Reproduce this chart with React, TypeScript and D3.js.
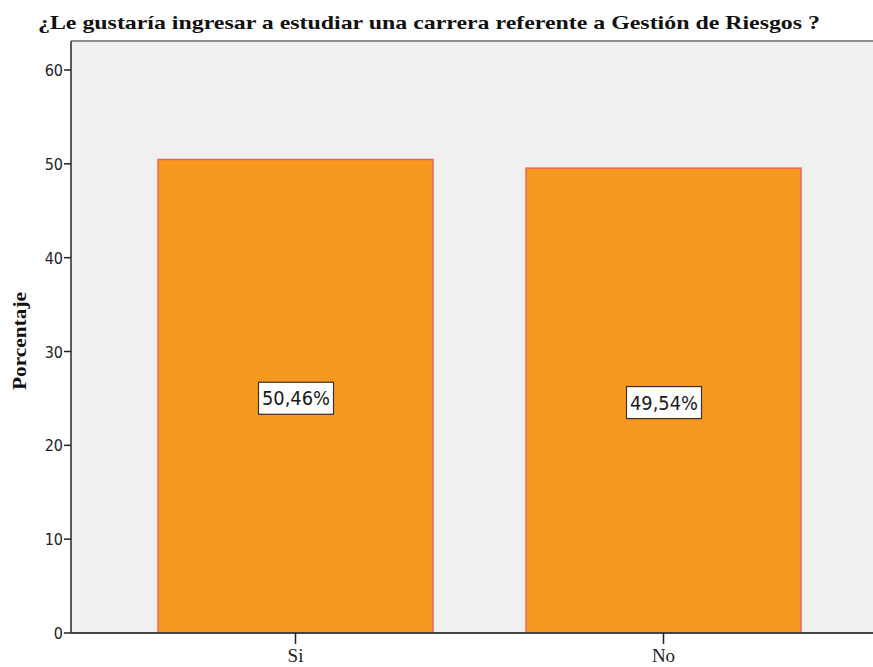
import React from 'react';
import * as d3 from 'd3';

const categories = ['Si', 'No'];
const values = [50.46, 49.54];
const valueLabels = ['50,46%', '49,54%'];
const yTicks = [0, 10, 20, 30, 40, 50, 60];

const W = 873;
const H = 667;
const plot = { left: 71, top: 41, right: 900, bottom: 633 };

export default function App() {
  const y = d3.scaleLinear().domain([0, 60]).range([plot.bottom, 70]);
  const x = d3
    .scaleBand<string>()
    .domain(categories)
    .range([111.5, 847.5])
    .paddingInner(0.253)
    .paddingOuter(0.1265);

  return (
    <svg
      width={W}
      height={H}
      style={{ position: 'absolute', left: 0, top: 0, background: '#ffffff' }}
    >
      {/* plot background */}
      <rect
        x={plot.left}
        y={plot.top}
        width={plot.right - plot.left}
        height={plot.bottom - plot.top}
        fill="#f0f0f0"
      />
      <line x1={plot.left} x2={W} y1={plot.top} y2={plot.top} stroke="#8c8c8c" strokeWidth={2} />

      {/* bars */}
      {categories.map((c, i) => (
        <rect
          key={`bar-${c}`}
          x={x(c)}
          y={y(values[i])}
          width={x.bandwidth()}
          height={plot.bottom - y(values[i])}
          fill="#f8991f"
          stroke="#f0605a"
          strokeWidth={1.5}
        />
      ))}

      {/* value labels */}
      {categories.map((c, i) => {
        const cx = (x(c) ?? 0) + x.bandwidth() / 2;
        const cy = (y(values[i]) + plot.bottom) / 2 + 2;
        return (
          <g key={`lab-${c}`}>
            <rect x={cx - 37} y={cy - 16} width={75} height={32} fill="#ffffff" stroke="#333333" strokeWidth={1.2} />
            <text
              x={cx + 0.5}
              y={cy + 7}
              textAnchor="middle"
              fontFamily="'DejaVu Sans Condensed', 'DejaVu Sans', sans-serif"
              fontSize={19}
              fill="#1a1a1a"
              textLength={68}
              lengthAdjust="spacingAndGlyphs"
            >
              {valueLabels[i]}
            </text>
          </g>
        );
      })}

      {/* axes */}
      <line x1={plot.left} x2={plot.left} y1={plot.top} y2={plot.bottom} stroke="#5a5a5a" strokeWidth={2} />
      <line x1={plot.left} x2={W} y1={plot.bottom} y2={plot.bottom} stroke="#444444" strokeWidth={2} />

      {yTicks.map((t) => (
        <g key={`yt-${t}`}>
          <line x1={plot.left - 7} x2={plot.left} y1={y(t)} y2={y(t)} stroke="#222" strokeWidth={1.5} />
          <text
            x={plot.left - 8}
            y={y(t) + 6}
            textAnchor="end"
            fontFamily="'DejaVu Sans Condensed', 'DejaVu Sans', sans-serif"
            fontSize={16}
            fill="#222"
          >
            {t}
          </text>
        </g>
      ))}

      {categories.map((c) => {
        const cx = (x(c) ?? 0) + x.bandwidth() / 2;
        return (
          <g key={`xt-${c}`}>
            <line x1={cx} x2={cx} y1={plot.bottom} y2={plot.bottom + 11} stroke="#222" strokeWidth={1.5} />
            <text
              x={cx}
              y={plot.bottom + 29}
              textAnchor="middle"
              fontFamily="'Liberation Serif', serif"
              fontSize={19}
              fill="#222"
            >
              {c}
            </text>
          </g>
        );
      })}

      {/* axis title */}
      <text
        transform={`translate(26, ${(plot.top + plot.bottom) / 2 + 4}) rotate(-90)`}
        textAnchor="middle"
        fontFamily="'Liberation Serif', serif"
        fontWeight="bold"
        fontSize={18}
        fill="#111"
        textLength={98}
        lengthAdjust="spacingAndGlyphs"
      >
        Porcentaje
      </text>

      {/* chart title */}
      <text
        x={38}
        y={29}
        fontFamily="'Liberation Serif', serif"
        fontWeight="bold"
        fontSize={19}
        fill="#111"
        textLength={782}
        lengthAdjust="spacingAndGlyphs"
      >
        ¿Le gustaría ingresar a estudiar una carrera referente a Gestión de Riesgos ?
      </text>
    </svg>
  );
}
